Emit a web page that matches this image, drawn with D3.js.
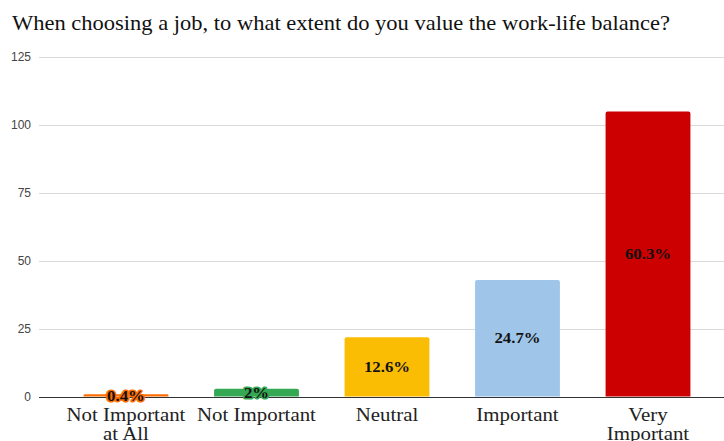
<!DOCTYPE html>
<html>
<head>
<meta charset="utf-8">
<script src="https://cdn.jsdelivr.net/npm/d3@7"></script>
<style>
  html, body { margin: 0; padding: 0; background: #fff; }
  svg { display: block; }
</style>
</head>
<body>
<svg id="chart" width="724" height="441"></svg>
<script>
// Survey responses: how much work-life balance matters when choosing a job
const categories = [["Not Important", "at All"], ["Not Important"], ["Neutral"], ["Important"], ["Very", "Important"]];
const counts = [1, 3, 22, 43, 105];
const shares = ["0.4%", "2%", "12.6%", "24.7%", "60.3%"];
const colors = ["#ff6d01", "#34a853", "#fbbc04", "#9fc5e8", "#cc0000"];
const yTicks = [0, 25, 50, 75, 100, 125];

const svg = d3.select("#chart");
const gridLeft = 39, gridRight = 724;
const y0 = 397, y1 = 57;
const serif = "'Liberation Serif', 'Times New Roman', serif";
const serifStretch = 1.16; // widen the narrow serif to a Georgia-like set width

const x = d3.scaleBand()
  .domain(d3.range(counts.length))
  .range([60.75, 713.25])
  .paddingInner(0.35)
  .paddingOuter(0.175);

const y = d3.scaleLinear().domain([0, 125]).range([y0, y1]);

function stretch(sel, k) {
  sel.each(function () {
    const len = this.getComputedTextLength();
    d3.select(this).attr("textLength", len * k).attr("lengthAdjust", "spacingAndGlyphs");
  });
}

// Title
svg.append("text")
  .attr("x", 12).attr("y", 30)
  .attr("font-family", serif)
  .attr("font-size", 22)
  .attr("fill", "#111")
  .attr("textLength", 658)
  .attr("lengthAdjust", "spacingAndGlyphs")
  .text("When choosing a job, to what extent do you value the work-life balance?");

// Gridlines and y tick labels
const yAxis = d3.axisLeft(y).tickValues(yTicks).tickSize(0).tickPadding(0);
const gy = svg.append("g").attr("transform", `translate(${gridLeft},0)`).call(yAxis);
gy.select(".domain").remove();
gy.selectAll(".tick text")
  .attr("x", -8)
  .attr("font-family", "Arial, 'Liberation Sans', sans-serif")
  .attr("font-size", 12)
  .attr("fill", "#444");
gy.selectAll(".tick").append("line")
  .attr("x1", 0).attr("x2", gridRight - gridLeft)
  .attr("stroke", d => d === 0 ? "#333" : "#d9d9d9")
  .attr("stroke-width", 1);

// Bars with slightly rounded top corners
const r = 2;
function barPath(x0, w, top, bottom) {
  const h = bottom - top;
  const rr = Math.min(r, h / 2, w / 2);
  return `M${x0},${bottom}V${top + rr}Q${x0},${top} ${x0 + rr},${top}H${x0 + w - rr}Q${x0 + w},${top} ${x0 + w},${top + rr}V${bottom}Z`;
}

svg.append("g").selectAll("path")
  .data(counts)
  .join("path")
  .attr("d", (d, i) => barPath(x(i), x.bandwidth(), y(d), y(0) - 0.5))
  .attr("fill", (d, i) => colors[i]);

// Zero baseline drawn over bars
svg.append("line")
  .attr("x1", gridLeft).attr("x2", gridRight)
  .attr("y1", y(0) + 0.5).attr("y2", y(0) + 0.5)
  .attr("stroke", "#333").attr("stroke-width", 1);

// Value labels centred on each bar; short bars get a halo in the bar colour
svg.append("g").selectAll("text")
  .data(counts)
  .join("text")
  .attr("x", (d, i) => x(i) + x.bandwidth() / 2)
  .attr("y", d => (y(d) + y(0)) / 2)
  .attr("dy", "0.35em")
  .attr("text-anchor", "middle")
  .attr("font-family", serif)
  .attr("font-weight", "bold")
  .attr("font-size", 14)
  .attr("fill", "#111")
  .attr("stroke", (d, i) => colors[i])
  .attr("stroke-width", d => (y(0) - y(d)) < 14 ? 3 : 0)
  .attr("paint-order", "stroke")
  .attr("stroke-linejoin", "round")
  .text((d, i) => shares[i])
  .call(stretch, 1.2);

// Category labels
const lbl = svg.append("g").selectAll("text")
  .data(categories)
  .join("text")
  .attr("x", (d, i) => x(i) + x.bandwidth() / 2)
  .attr("y", 421)
  .attr("text-anchor", "middle")
  .attr("font-family", serif)
  .attr("font-size", 18)
  .attr("fill", "#222");
lbl.selectAll("tspan")
  .data(d => d)
  .join("tspan")
  .attr("x", function () { return d3.select(this.parentNode).attr("x"); })
  .attr("dy", (d, j) => j === 0 ? 0 : 19)
  .text(d => d)
  .call(stretch, serifStretch);
</script>
</body>
</html>
